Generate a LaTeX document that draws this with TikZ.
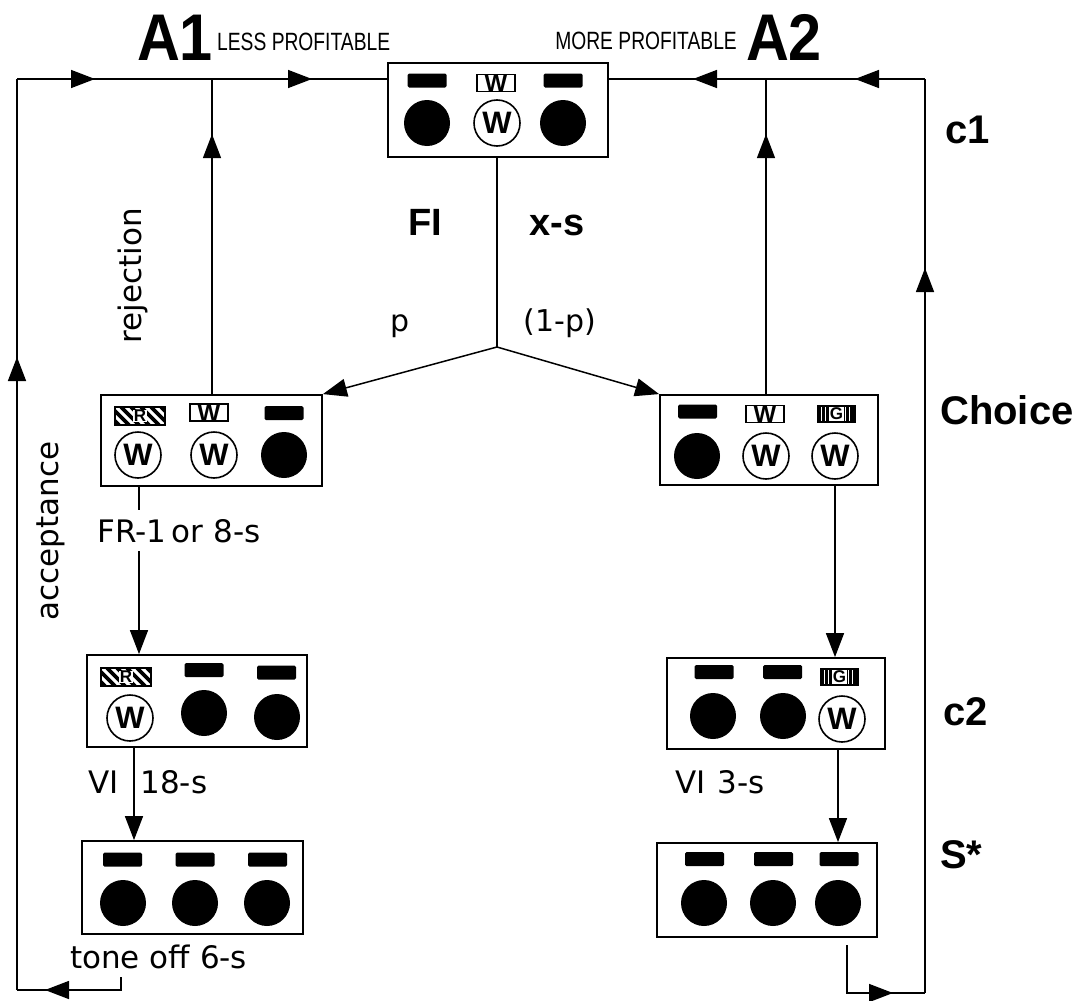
\documentclass[tikz,border=0pt]{standalone}
\usepackage{fontspec}
\setmainfont{DejaVu Sans}
\newfontfamily\hv{Liberation Sans}
\newfontfamily\hvc{Liberation Sans}[FakeStretch=0.77]
\newfontfamily\hvt{Liberation Sans}[FakeStretch=0.9]
\usetikzlibrary{arrows.meta,decorations.markings}
\tikzset{
  box/.style={draw, line width=1.8pt, rectangle, inner sep=0pt},
  conn/.style={line width=1.5pt},
  tipend/.style={conn, -{Triangle[length=24pt,width=18pt]}},
  midarr/.style={conn, postaction={decorate}, decoration={markings,
     mark=at position #1 with {\arrow{Triangle[length=24pt,width=18pt]}}}},
  lab/.style={font=\fontsize{31}{31}\selectfont, inner sep=0pt},
  bl/.style={font=\hv\bfseries\fontsize{40}{40}\selectfont, inner sep=0pt},
  wlet/.style={font=\hv\bfseries\fontsize{31}{31}\selectfont, inner sep=0pt},
  wsm/.style={font=\hv\bfseries\fontsize{24}{24}\selectfont, inner sep=0pt},
  slet/.style={font=\hv\bfseries\fontsize{17}{17}\selectfont, fill=white, inner sep=0.5pt},
}
\newcommand\barr[2]{\fill[rounded corners=1.5pt] (#1-19.5,#2-7) rectangle (#1+19.5,#2+7);}
\newcommand\dotc[2]{\fill (#1,#2) circle (23pt);}
\newcommand\wcirc[2]{\draw[line width=1.6pt] (#1,#2) circle (23pt); \node[wlet] at (#1,#2) {W};}
\newcommand\wbox[2]{\draw[line width=1.5pt,fill=white] (#1-19,#2-8.5) rectangle (#1+19,#2+8.5); \node[wsm] at (#1,#2+0.5) {W};}
\newcommand\rbox[2]{%
  \begin{scope}
    \clip (#1-25,#2-9) rectangle (#1+25,#2+9);
    \foreach \k in {-40,-30,...,40} {\draw[line width=3.8pt] (#1+\k-9,#2-9) -- ++(18,18);}
  \end{scope}
  \draw[line width=1.4pt] (#1-25,#2-9) rectangle (#1+25,#2+9);
  \node[slet] at (#1,#2) {R};}
\newcommand\gbox[2]{%
  \fill (#1-19.5,#2-9) rectangle (#1+19.5,#2+9);
  \foreach \k in {-15,-11,...,15} {\draw[white,line width=1.1pt] (#1+\k,#2-7) -- (#1+\k,#2+7);}
  \node[slet] at (#1,#2) {G};}
\begin{document}
\begin{tikzpicture}[x=1pt,y=-1pt]
\useasboundingbox (0,0) rectangle (1082,1001);

% ---------- boxes ----------
\node[box, minimum width=220pt, minimum height=94pt] (T) at (498,110) {};
\node[box, minimum width=221pt, minimum height=91pt] (L) at (211.5,440.5) {};
\node[box, minimum width=218pt, minimum height=90pt] (R) at (769,440) {};
\node[box, minimum width=220pt, minimum height=92pt] (L2) at (197,701) {};
\node[box, minimum width=218pt, minimum height=91pt] (R2) at (776,703.5) {};
\node[box, minimum width=221pt, minimum height=93pt] (L3) at (192.5,887.5) {};
\node[box, minimum width=220pt, minimum height=94pt] (R3) at (767,890) {};

% ---------- box contents ----------
% T
\barr{427}{80.5} \wbox{496}{83} \barr{563}{80.5}
\dotc{427}{123} \wcirc{497}{123} \dotc{563}{123}
% L
\rbox{140}{416} \wbox{209}{412.5} \barr{284}{413}
\wcirc{138}{455} \wcirc{214}{455} \dotc{284}{455}
% R
\barr{697.5}{411.5} \wbox{765}{414} \gbox{836.5}{414}
\dotc{697}{456} \wcirc{766}{456} \wcirc{835}{456}
% L2
\rbox{126}{677} \barr{204}{670} \barr{276.5}{672.5}
\wcirc{130}{718} \dotc{204}{713} \dotc{277}{717}
% R2
\barr{714}{672} \barr{782.5}{672} \gbox{839.5}{677}
\dotc{713}{716} \dotc{783}{716} \wcirc{842}{719}
% L3
\barr{122.5}{859.5} \barr{195}{859.5} \barr{267.5}{859.5}
\dotc{123}{903} \dotc{195}{903} \dotc{267}{903}
% R3
\barr{704.5}{859} \barr{773.5}{859} \barr{839}{859}
\dotc{704}{903} \dotc{773}{903} \dotc{838}{903}

% ---------- coordinates ----------
\coordinate (J) at (497,347);
\coordinate (tl) at (212,79);
\coordinate (tr) at (766,79);
\coordinate (cl) at (17,79);
\coordinate (cr) at (925,79);
\coordinate (bl) at (17,990);
\coordinate (br) at (925,993);
\coordinate (s1) at (121,977);
\coordinate (s2) at (847,945);
\coordinate (x1) at (139,0);
\coordinate (x2) at (134,0);
\coordinate (x3) at (835,0);
\coordinate (x4) at (838,0);

% ---------- connectors ----------
\draw[conn] (T.south -| J) -- (J);
\draw[tipend] (J) -- (L.north east);
\draw[tipend] (J) -- (R.north west);

\draw[tipend] (L.south -| x1) -- (L2.north -| x1);
\draw[tipend] (L2.south -| x2) -- (L3.north -| x2);
\draw[tipend] (R.south -| x3) -- (R2.north -| x3);
\draw[tipend] (R2.south -| x4) -- (R3.north -| x4);

\draw[midarr=260pt] (L.north -| tl) -- (tl);
\draw[midarr=100pt] (tl) -- (tl -| T.west);
\draw[midarr=260pt] (R.north -| tr) -- (tr);
\draw[midarr=73pt] (tr) -- (tr -| T.east);

\draw[midarr=89pt] (s1) |- (bl);
\draw[midarr=633pt] (bl) -- (cl);
\draw[midarr=78pt] (cl) -- (tl);

\draw[midarr=94pt] (s2) |- (br);
\draw[midarr=725pt] (br) -- (cr);
\draw[midarr=70pt] (cr) -- (tr);

% ---------- labels ----------
\node[anchor=base, inner sep=0pt, font=\hvt\bfseries\fontsize{66}{66}\selectfont] (A1) at (175,60) {A1};
\node[anchor=base west, inner sep=0pt, font=\hvc\fontsize{25}{25}\selectfont] (lp) at (217,50) {LESS PROFITABLE};
\node[anchor=base east, inner sep=0pt, font=\hvc\fontsize{25}{25}\selectfont] (mp) at (737,49) {MORE PROFITABLE};
\node[anchor=base, inner sep=0pt, font=\hvt\bfseries\fontsize{66}{66}\selectfont] (A2) at (784,60) {A2};

\node[anchor=base, inner sep=0pt, font=\hv\bfseries\fontsize{38}{38}\selectfont] (fi) at (425,235) {FI};
\node[anchor=base, inner sep=0pt, font=\hv\bfseries\fontsize{38}{38}\selectfont] (xs) at (557,235) {x-s};
\node[anchor=base, lab, font=\fontsize{30}{30}\selectfont] (p) at (400,331) {p};
\node[anchor=base, lab, font=\fontsize{30}{30}\selectfont] (q) at (560,331) {(1-p)};

\node[lab, rotate=90] (rej) at (133,276) {rejection};
\node[lab, rotate=90] (acc) at (51,531) {acceptance};

\node[anchor=base, lab, fill=white, inner xsep=2pt, inner ysep=9pt] (fr) at (179,542) {FR-1\,or 8-s};
\node[anchor=base west, lab] (vi1) at (88,793) {VI\hspace{22pt}18-s};
\node[anchor=base west, lab] (vi2) at (675,793) {VI\hspace{12pt}3-s};
\node[anchor=base west, lab] (tone) at (70,968) {tone off 6-s};

\node[bl, anchor=west] (c1) at (945,130) {c1};
\node[bl, anchor=west] (ch) at (940,410) {Choice};
\node[bl, anchor=west] (c2) at (943,712) {c2};
\node[bl, anchor=west] (sx) at (940,855) {S*};
\end{tikzpicture}
\end{document}
